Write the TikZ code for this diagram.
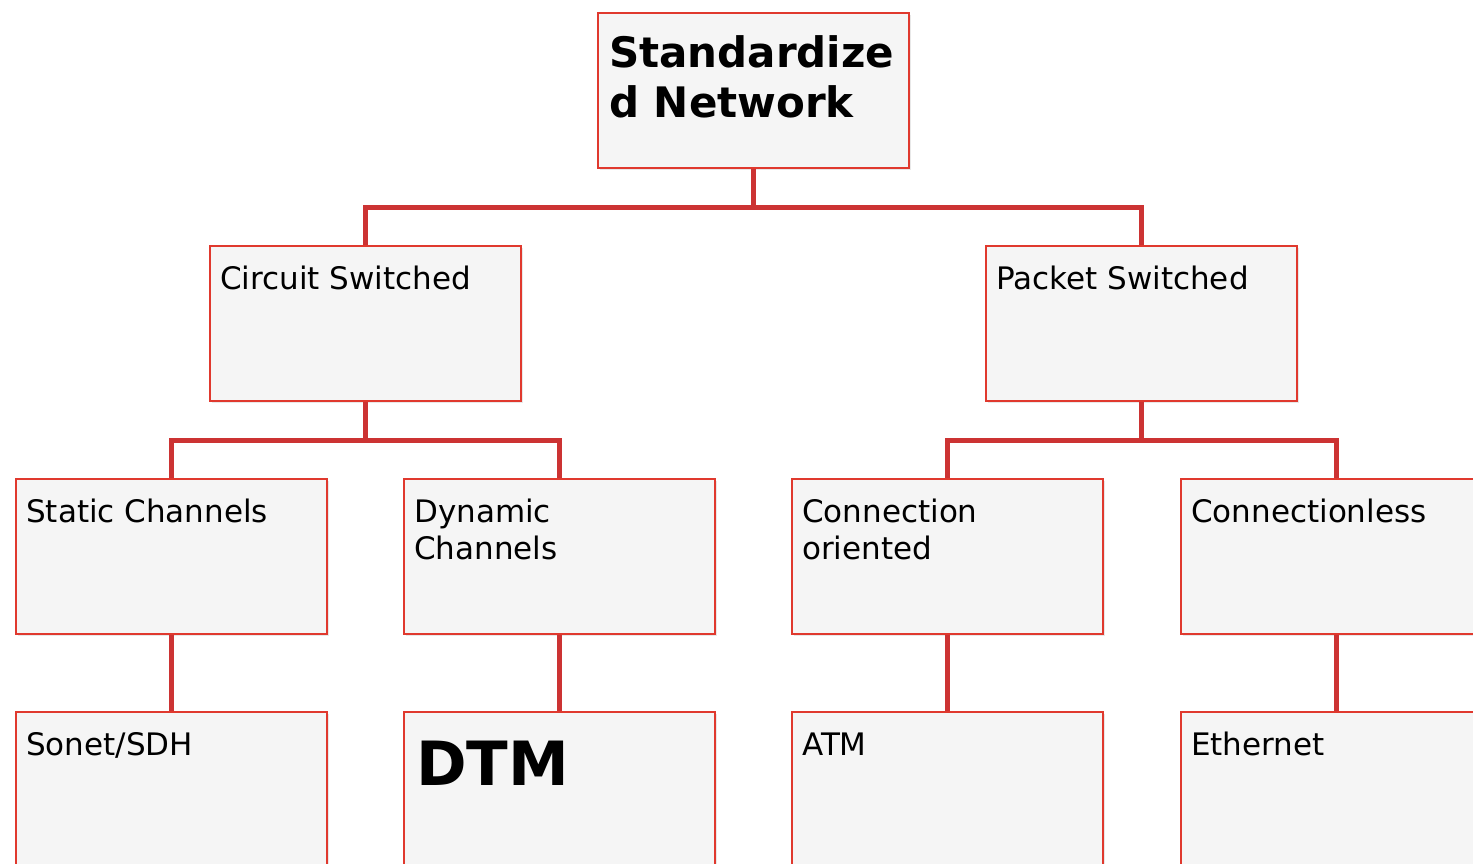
\documentclass[tikz,border=0pt]{standalone}
\usepackage{fontspec}
\setmainfont{DejaVu Sans}
\usetikzlibrary{shadows,calc}
\definecolor{boxfill}{HTML}{F5F5F5}
\definecolor{boxline}{HTML}{E0392E}
\definecolor{linkline}{HTML}{CC3333}
\begin{document}
\begin{tikzpicture}[x=1pt,y=-1pt,
  cell/.style={draw=boxline,line width=1.6pt,fill=boxfill,rectangle,anchor=north west,
    minimum width=311pt,minimum height=155pt,inner sep=0pt,
    drop shadow={shadow xshift=2pt,shadow yshift=-2pt,opacity=0.18}},
  label/.style={anchor=base west,inner sep=0pt,font=\fontsize{31}{37}\selectfont,align=left},
  biglabel/.style={anchor=base west,inner sep=0pt,font=\fontsize{42}{50}\selectfont\bfseries,align=left},
  link/.style={draw=linkline,line width=4.5pt}]
\useasboundingbox (0,0) rectangle (1473,863);
\clip (0,0) rectangle (1473,863);

% boxes
\node[cell] (root) at (597,12) {};
\node[cell] (circ) at (209,245) {};
\node[cell] (pack) at (985,245) {};
\node[cell] (stat) at (15,478) {};
\node[cell] (dyn)  at (403,478) {};
\node[cell] (conn) at (791,478) {};
\node[cell] (cless) at (1180,478) {};
\node[cell] (sonet) at (15,711) {};
\node[cell] (dtm)  at (403,711) {};
\node[cell] (atm)  at (791,711) {};
\node[cell] (eth)  at (1180,711) {};

% connectors
\draw[link] (root.south) -- ++(0,39) coordinate (rj) -| (circ.north);
\draw[link] (rj) -| (pack.north);
\draw[link] (circ.south) -- ++(0,39) coordinate (cj) -| (stat.north);
\draw[link] (cj) -| (dyn.north);
\draw[link] (pack.south) -- ++(0,39) coordinate (pj) -| (conn.north);
\draw[link] (pj) -| (cless.north);
\draw[link] (stat.south) -- (sonet.north);
\draw[link] (dyn.south) -- (dtm.north);
\draw[link] (conn.south) -- (atm.north);
\draw[link] (cless.south) -- (eth.north);

% texts (multi-line nodes sit on the baseline of their last line)
\node[biglabel] (troot) at ($(root.north west)+(12,105)$) {Standardize\\d Network};
\node[label] (tcirc) at ($(circ.north west)+(11,44)$) {Circuit Switched};
\node[label] (tpack) at ($(pack.north west)+(11,44)$) {Packet Switched};
\node[label] (tstat) at ($(stat.north west)+(11,44)$) {Static Channels};
\node[label] (tdyn)  at ($(dyn.north west)+(11,81)$) {Dynamic\\Channels};
\node[label] (tconn) at ($(conn.north west)+(11,81)$) {Connection\\oriented};
\node[label] (tcless) at ($(cless.north west)+(11,44)$) {Connectionless};
\node[label] (tsonet) at ($(sonet.north west)+(11,44)$) {Sonet/SDH};
\node[anchor=base west,inner sep=0pt,font=\fontsize{61}{70}\selectfont\bfseries] (tdtm) at ($(dtm.north west)+(13,74)$) {DTM};
\node[label] (tatm)  at ($(atm.north west)+(11,44)$) {ATM};
\node[label] (teth)  at ($(eth.north west)+(11,44)$) {Ethernet};
\end{tikzpicture}
\end{document}
